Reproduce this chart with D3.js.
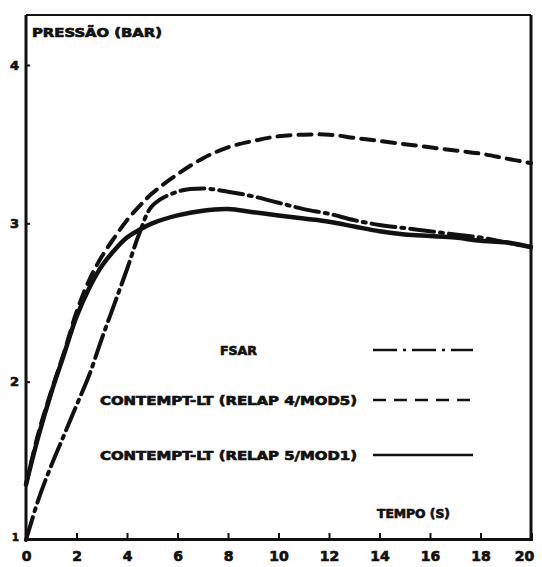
<!DOCTYPE html>
<html><head><meta charset="utf-8">
<script src="https://cdn.jsdelivr.net/npm/d3@7"></script>
<style>
html,body{margin:0;padding:0;background:#fff;}
svg{display:block;}
text{font-family:"DejaVu Sans","Liberation Sans",sans-serif;font-weight:bold;fill:#111;stroke:#111;stroke-width:0.7px;}
</style></head>
<body>
<svg id="chart" width="542" height="567"></svg>
<script>
// ---- data ----
const time = [0, 0.5, 1, 1.5, 2, 2.5, 3, 3.5, 4, 4.5, 5, 6, 7, 8, 9, 10, 11, 12, 13, 14, 15, 16, 17, 18, 19, 20];
const fsar = [1.0, 1.26, 1.47, 1.66, 1.85, 2.04, 2.27, 2.49, 2.71, 2.94, 3.11, 3.2, 3.22, 3.2, 3.17, 3.13, 3.09, 3.06, 3.02, 2.99, 2.97, 2.95, 2.93, 2.91, 2.88, 2.85];
const relap4 = [1.35, 1.68, 1.94, 2.18, 2.44, 2.64, 2.79, 2.91, 3.02, 3.11, 3.19, 3.31, 3.41, 3.48, 3.52, 3.55, 3.56, 3.56, 3.54, 3.52, 3.50, 3.48, 3.46, 3.44, 3.41, 3.38];
const relap5 = [1.35, 1.66, 1.93, 2.17, 2.41, 2.59, 2.73, 2.83, 2.91, 2.96, 3.0, 3.05, 3.08, 3.09, 3.07, 3.05, 3.03, 3.01, 2.98, 2.95, 2.93, 2.92, 2.91, 2.89, 2.88, 2.85];
const xTicks = [0, 2, 4, 6, 8, 10, 12, 14, 16, 18, 20];
const yTicks = [1, 2, 3, 4];
const seriesNames = ["FSAR", "CONTEMPT-LT (RELAP 4/MOD5)", "CONTEMPT-LT (RELAP 5/MOD1)"];
const yTitle = "PRESSÃO (BAR)";
const xTitle = "TEMPO (S)";

// ---- drawing ----
const svg = d3.select("#chart");
const x = d3.scaleLinear().domain([0, 20]).range([26, 531]);
const y = d3.scaleLinear().domain([1, 4]).range([540, 65]);
const topY = 15;
const ink = "#111";

// frame
svg.append("line").attr("x1", 26).attr("x2", 531).attr("y1", topY).attr("y2", topY).attr("stroke", ink).attr("stroke-width", 2);
svg.append("line").attr("x1", 531).attr("x2", 531).attr("y1", topY).attr("y2", 540).attr("stroke", ink).attr("stroke-width", 3);

// x axis
const xAxis = d3.axisBottom(x).tickValues(xTicks).tickSize(-6).tickPadding(14).tickFormat(d3.format("d"));
const gx = svg.append("g").attr("transform", "translate(0,539)").call(xAxis);
gx.select(".domain").attr("stroke", ink).attr("stroke-width", 3);
gx.selectAll(".tick line").attr("stroke", ink).attr("stroke-width", 2);
gx.selectAll(".tick text").attr("font-size", 14).attr("fill", ink).attr("dy", "0.55em");
gx.selectAll(".tick").filter(d => d === 0 || d === 20).select("line").remove();
gx.selectAll(".tick").filter(d => d === 20).select("text").attr("dx", -7);

// y axis
const yAxis = d3.axisLeft(y).tickValues(yTicks).tickSize(-4).tickPadding(7).tickFormat(d3.format("d"));
const gy = svg.append("g").attr("transform", "translate(26,0)").call(yAxis);
gy.select(".domain").attr("stroke", ink).attr("stroke-width", 3);
gy.selectAll(".tick line").attr("stroke", ink).attr("stroke-width", 2);
gy.selectAll(".tick text").attr("font-size", 13).attr("fill", ink);
gy.selectAll(".tick").filter(d => d === 1).select("line").remove();
gy.selectAll(".tick").filter(d => d === 1).select("text").attr("font-size", 10).attr("dy", "0.05em");
gy.select(".domain").attr("d", `M0,${topY}V540`);

// titles
svg.append("text").attr("x", 32).attr("y", 37).attr("font-size", 12).attr("textLength", 130).attr("lengthAdjust", "spacingAndGlyphs").text(yTitle);
svg.append("text").attr("x", 377).attr("y", 518).attr("font-size", 12).attr("textLength", 73).attr("lengthAdjust", "spacingAndGlyphs").text(xTitle);

// series
const series = [
  {name: seriesNames[0], values: fsar, dash: "24,6,3,6", legendY: 350, labelX: 220, labelW: 37},
  {name: seriesNames[1], values: relap4, dash: "13,8", legendY: 400, labelX: 100, labelW: 257},
  {name: seriesNames[2], values: relap5, dash: null, legendY: 455, labelX: 100, labelW: 257}
];
const line = d3.line().x((d, i) => x(time[i])).y(d => y(d)).curve(d3.curveCatmullRom.alpha(0.5));

series.forEach(s => {
  svg.append("path").datum(s.values)
    .attr("d", line)
    .attr("fill", "none")
    .attr("stroke", ink)
    .attr("stroke-width", s.dash ? 4 : 4.5)
    .attr("stroke-linecap", "round")
    .attr("stroke-dasharray", s.dash);
  svg.append("text").attr("x", s.labelX).attr("y", s.legendY + 5).attr("font-size", 12)
    .attr("textLength", s.labelW).attr("lengthAdjust", "spacingAndGlyphs").text(s.name);
  svg.append("line").attr("x1", 373).attr("x2", 473).attr("y1", s.legendY).attr("y2", s.legendY)
    .attr("stroke", ink).attr("stroke-width", 2.5).attr("stroke-dasharray", s.dash);
});
</script>
</body></html>
